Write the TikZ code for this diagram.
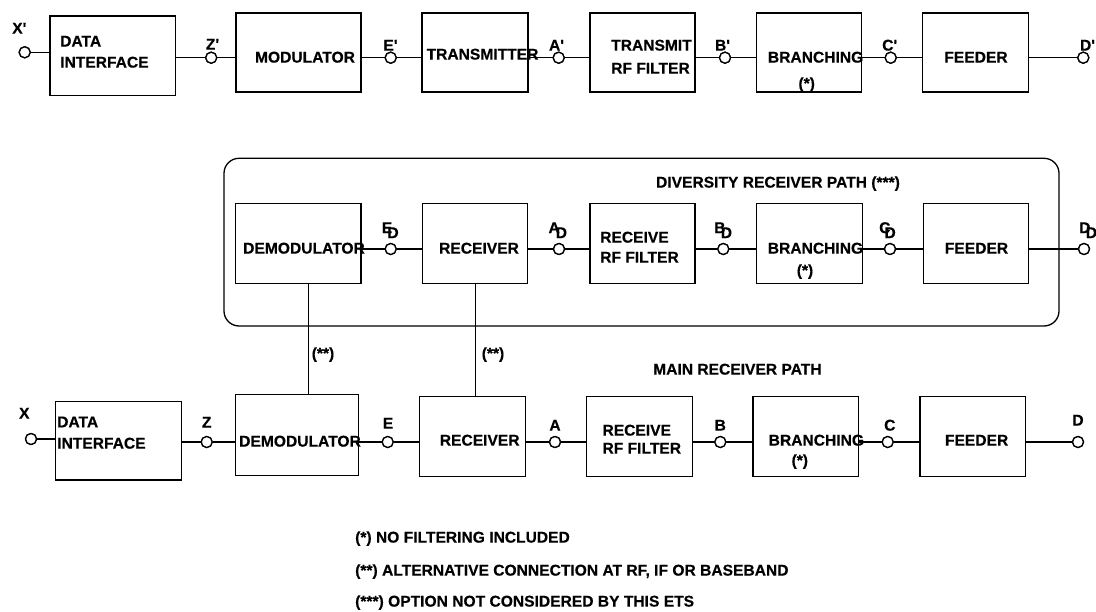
\documentclass[tikz,border=0pt]{standalone}
\usepackage{fontspec}
\newfontfamily\af{Liberation Sans}[BoldFeatures={FakeBold=0.4}]
\newcommand\subD[2][-4.7pt]{#2\kern#1\raisebox{-5pt}{D}}
\begin{document}
\begin{tikzpicture}[x=1pt,y=-1pt,
  blk/.style={draw, line width=1.3pt, inner sep=0pt},
  txt/.style={font=\af\bfseries\fontsize{15.6}{18}\selectfont, inner sep=0pt, text height=11.2pt, text depth=0pt},
  port/.style={circle, draw, line width=1.3pt, fill=white, inner sep=0pt, minimum size=11pt},
  wire/.style={line width=1.3pt},
  tap/.style={line width=0.8pt}]
\useasboundingbox (0,0) rectangle (1096,612);

% ---------- boxes, top row ----------
\node[blk, minimum width=125.5pt, minimum height=79.5pt] (di1) at (112.75,55.75) {};
\node[blk, minimum width=125pt, minimum height=79pt] (mod1) at (298.5,52.5) {};
\node[blk, minimum width=106pt, minimum height=79pt] (tx1) at (475,52.5) {};
\node[blk, minimum width=105pt, minimum height=79pt] (trf1) at (642.5,52.5) {};
\node[blk, minimum width=105pt, minimum height=79pt] (br1) at (809.2,52.5) {};
\node[blk, minimum width=105.6pt, minimum height=79pt] (fd1) at (975.5,52.5) {};

% ---------- diversity frame and boxes ----------
\node[draw, line width=1.3pt, rounded corners=15pt, minimum width=835pt, minimum height=167.7pt] (div) at (641.5,242.15) {};
\node[blk, minimum width=125.3pt, minimum height=80pt] (dem2) at (298.35,243.3) {};
\node[blk, minimum width=104.6pt, minimum height=80pt] (rx2) at (475,243.3) {};
\node[blk, minimum width=105pt, minimum height=80pt] (rrf2) at (642.5,243.3) {};
\node[blk, minimum width=105.6pt, minimum height=80pt] (br2) at (809.5,243.3) {};
\node[blk, minimum width=105pt, minimum height=80pt] (fd2) at (975.8,243.3) {};

% ---------- boxes, main receiver ----------
\node[blk, minimum width=126pt, minimum height=78.3pt] (di3) at (118.7,440.85) {};
\node[blk, minimum width=122.6pt, minimum height=81.4pt] (dem3) at (297,435) {};
\node[blk, minimum width=106.5pt, minimum height=80pt] (rx3) at (472.55,436.7) {};
\node[blk, minimum width=105.9pt, minimum height=80pt] (rrf3) at (639.35,436.7) {};
\node[blk, minimum width=105.4pt, minimum height=80pt] (br3) at (805.7,436.7) {};
\node[blk, minimum width=105.9pt, minimum height=80pt] (fd3) at (972.85,436.7) {};

% ---------- ports ----------
\node[port] (xp) at (24.7,52.3) {};
\node[port] (zp) at (211.2,57.7) {};
\node[port] (ep) at (390.7,57.7) {};
\node[port] (ap) at (558.7,57.7) {};
\node[port] (bp) at (725,57.7) {};
\node[port] (cp) at (890.7,57.7) {};
\node[port] (dp) at (1083.3,57.7) {};

\node[port] (ed) at (390.7,249) {};
\node[port] (ad) at (559,249) {};
\node[port] (bd) at (723.3,249) {};
\node[port] (cd) at (890,249) {};
\node[port] (dd) at (1084,249) {};

\node[port] (x) at (31,439) {};
\node[port] (z) at (206.7,442) {};
\node[port] (e) at (387.7,442) {};
\node[port] (a) at (555,442) {};
\node[port] (b) at (720.3,442) {};
\node[port] (c) at (887.7,442) {};
\node[port] (d) at (1078,442) {};

% ---------- wires ----------
\draw[wire] (xp) -- (xp -| di1.west);
\draw[wire] (di1.east |- zp) -- (zp) -- (zp -| mod1.west);
\draw[wire] (mod1.east |- ep) -- (ep) -- (ep -| tx1.west);
\draw[wire] (tx1.east |- ap) -- (ap) -- (ap -| trf1.west);
\draw[wire] (trf1.east |- bp) -- (bp) -- (bp -| br1.west);
\draw[wire] (br1.east |- cp) -- (cp) -- (cp -| fd1.west);
\draw[wire] (fd1.east |- dp) -- (dp);

\draw[wire] (dem2.east |- ed) -- (ed) -- (ed -| rx2.west);
\draw[wire] (rx2.east |- ad) -- (ad) -- (ad -| rrf2.west);
\draw[wire] (rrf2.east |- bd) -- (bd) -- (bd -| br2.west);
\draw[wire] (br2.east |- cd) -- (cd) -- (cd -| fd2.west);
\draw[wire] (fd2.east |- dd) -- (dd);

\draw[wire] (x) -- (x -| di3.west);
\draw[wire] (di3.east |- z) -- (z) -- (z -| dem3.west);
\draw[wire] (dem3.east |- e) -- (e) -- (e -| rx3.west);
\draw[wire] (rx3.east |- a) -- (a) -- (a -| rrf3.west);
\draw[wire] (rrf3.east |- b) -- (b) -- (b -| br3.west);
\draw[wire] (br3.east |- c) -- (c) -- (c -| fd3.west);
\draw[wire] (fd3.east |- d) -- (d);

\draw[tap] ([xshift=10pt]dem2.south) -- ([xshift=10pt]dem2.south |- dem3.north);
\draw[tap] ([xshift=0.7pt]rx2.south) -- ([xshift=0.7pt]rx2.south |- rx3.north);

% redraw ports on top of wires
\foreach \p in {xp,zp,ep,ap,bp,cp,dp,ed,ad,bd,cd,dd,x,z,e,a,b,c,d}{
  \draw[line width=1.3pt, fill=white] (\p.center) circle (5.5pt);
}

% ---------- texts, top row ----------
\node[txt, anchor=west] (t1a) at (60,41) {DATA};
\node[txt, anchor=west] (t1b) at (60,62) {INTERFACE};
\node[txt] (t2) at (305,57) {MODULATOR};
\node[txt] (t3) at (482.5,54) {TRANSMITTER};
\node[txt, anchor=west] (t4a) at (611,45) {TRANSMIT};
\node[txt, anchor=west] (t4b) at (611,68) {RF FILTER};
\node[txt] (t5) at (815.6,57) {BRANCHING};
\node[txt] (t5s) at (806.7,83) {(*)};
\node[txt] (t6) at (976,57) {FEEDER};

\node[txt] (lxp) at (19.3,28) {X'};
\node[txt] (lzp) at (212.5,44) {Z'};
\node[txt] (lep) at (390.5,45) {E'};
\node[txt] (lap) at (556.5,45) {A'};
\node[txt] (lbp) at (722.5,45) {B'};
\node[txt] (lcp) at (889.7,45) {C'};
\node[txt] (ldp) at (1087.5,45) {D'};

% ---------- texts, diversity ----------
\node[txt] (tdiv) at (778,182) {DIVERSITY RECEIVER PATH (***)};
\node[txt] (u2) at (304,248) {DEMODULATOR};
\node[txt] (u3) at (479,248) {RECEIVER};
\node[txt, anchor=west] (u4a) at (600,237) {RECEIVE};
\node[txt, anchor=west] (u4b) at (600,257) {RF FILTER};
\node[txt] (u5) at (815.5,248) {BRANCHING};
\node[txt] (u5s) at (805,270) {(*)};
\node[txt] (u6) at (976.5,248) {FEEDER};

\node[txt, anchor=west] (led) at (381.6,227.5) {\subD[-4.8pt]{E}};
\node[txt, anchor=west] (lad) at (548.3,227.5) {\subD[-4pt]{A}};
\node[txt, anchor=west] (lbd) at (714,227.5) {\subD{B}};
\node[txt, anchor=west] (lcd) at (879,227.5) {\subD[-6pt]{C}};
\node[txt, anchor=west] (ldd) at (1079,227.5) {\subD{D}};

\node[txt] (s1) at (323,353) {(**)};
\node[txt] (s2) at (493,353) {(**)};
\node[txt, anchor=west] (tmain) at (653,369) {MAIN RECEIVER PATH};

% ---------- texts, main receiver ----------
\node[txt, anchor=west] (v1a) at (57,421.7) {DATA};
\node[txt, anchor=west] (v1b) at (57,443) {INTERFACE};
\node[txt] (v2) at (300,441) {DEMODULATOR};
\node[txt] (v3) at (479.7,440) {RECEIVER};
\node[txt, anchor=west] (v4a) at (602.3,430) {RECEIVE};
\node[txt, anchor=west] (v4b) at (602.3,448) {RF FILTER};
\node[txt, anchor=west] (v5) at (768.5,440) {BRANCHING};
\node[txt] (v5s) at (799.8,460) {(*)};
\node[txt] (v6) at (976.6,440) {FEEDER};

\node[txt] (lx) at (24.3,413) {X};
\node[txt] (lz) at (206.7,422) {Z};
\node[txt] (le) at (388,423) {E};
\node[txt] (la) at (555,425) {A};
\node[txt] (lb) at (720.3,425) {B};
\node[txt] (lc) at (889.8,425) {C};
\node[txt] (ld) at (1078,420) {D};

% ---------- footnotes ----------
\node[txt, anchor=west] (f1) at (355,537) {(*) NO FILTERING INCLUDED};
\node[txt, anchor=west] (f2) at (355,570) {(**) ALTERNATIVE CONNECTION AT RF, IF OR BASEBAND};
\node[txt, anchor=west] (f3) at (355,601) {(***) OPTION NOT CONSIDERED BY THIS ETS};
\end{tikzpicture}
\end{document}
